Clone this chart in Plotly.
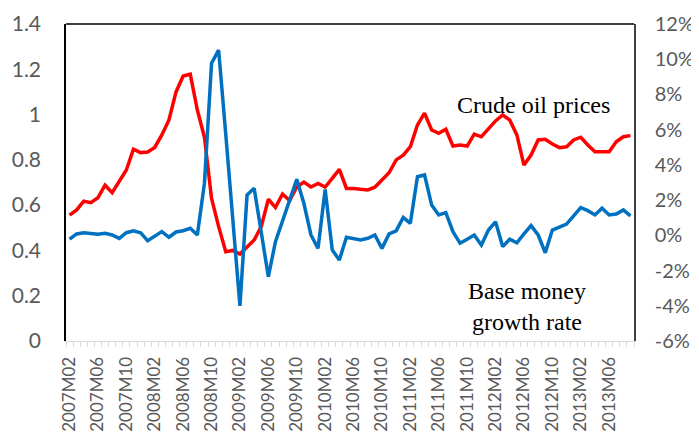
import plotly.graph_objects as go

months = [f"{y}M{m:02d}" for y in range(2007, 2014) for m in range(1, 13)]
months = months[months.index("2007M02"):months.index("2013M09") + 1]

oil_price = [
    0.556, 0.579, 0.618, 0.611, 0.633, 0.688, 0.655, 0.704, 0.755, 0.847,
    0.832, 0.835, 0.855, 0.910, 0.976, 1.100, 1.170, 1.178, 1.020, 0.900,
    0.630, 0.505, 0.394, 0.400, 0.384, 0.415, 0.446, 0.505, 0.626, 0.590,
    0.649, 0.620, 0.680, 0.702, 0.680, 0.696, 0.680, 0.718, 0.758, 0.674,
    0.674, 0.670, 0.667, 0.679, 0.711, 0.743, 0.800, 0.821, 0.858, 0.954,
    1.006, 0.932, 0.917, 0.935, 0.861, 0.866, 0.861, 0.914, 0.902, 0.935,
    0.972, 0.998, 0.976, 0.910, 0.777, 0.821, 0.888, 0.891, 0.870, 0.854,
    0.858, 0.888, 0.900, 0.866, 0.836, 0.836, 0.836, 0.880, 0.902, 0.907,
]

base_money_growth = [
    -0.22, 0.08, 0.15, 0.12, 0.06, 0.12, 0.02, -0.17, 0.15, 0.26,
    0.15, -0.30, -0.04, 0.21, -0.11, 0.19, 0.26, 0.40, 0.02, 2.96,
    9.77, 10.52, 5.75, 0.76, -4.01, 2.29, 2.67, 0.17, -2.35, -0.36,
    0.87, 2.10, 3.18, 1.82, 0.02, -0.74, 2.61, -0.83, -1.40, -0.11,
    -0.20, -0.26, -0.17, 0.02, -0.74, 0.08, 0.25, 1.02, 0.68, 3.33,
    3.43, 1.72, 1.16, 1.29, 0.21, -0.45, -0.22, 0.02, -0.55, 0.30,
    0.77, -0.64, -0.22, -0.42, 0.08, 0.55, 0.02, -0.99, 0.30, 0.49,
    0.64, 1.10, 1.57, 1.40, 1.16, 1.54, 1.16, 1.21, 1.44, 1.10,
]

left_ticks = [0, 0.2, 0.4, 0.6, 0.8, 1, 1.2, 1.4]
right_ticks = [-6, -4, -2, 0, 2, 4, 6, 8, 10, 12]
label_months = months[::4]

idx = list(range(len(months)))
label_idx = [months.index(m) for m in label_months]

fig = go.Figure()
fig.add_trace(go.Scatter(x=idx, y=oil_price, mode="lines",
                         line=dict(color="#FF0000", width=3.5),
                         name="Crude oil prices", yaxis="y"))
fig.add_trace(go.Scatter(x=idx, y=base_money_growth, mode="lines",
                         line=dict(color="#0070C0", width=3.5),
                         name="Base money growth rate", yaxis="y2"))

tickfont = dict(family="Lato", size=21, color="#595959")

# page body has an 8px margin, so the figure is sized to fit the 699x437 window
fig.update_layout(
    width=691, height=429,
    margin=dict(l=58, r=65, t=16, b=96),
    paper_bgcolor="white", plot_bgcolor="white",
    showlegend=False,
    xaxis=dict(
        range=[-0.5, len(months) - 0.5],
        tickvals=label_idx, ticktext=label_months,
        tickangle=-90, ticks="", showgrid=False, zeroline=False,
        showline=True, linecolor="#d9d9d9", linewidth=1,
        tickfont=dict(family="Lato", size=17, color="#595959"),
        ticklabelstandoff=8, automargin=False,
        minor=dict(tick0=-0.5, dtick=1, ticks="outside", ticklen=5,
                   tickcolor="#d9d9d9", showgrid=False),
    ),
    yaxis=dict(
        range=[0, 1.4], tickvals=left_ticks,
        ticktext=[f"{v:g}" for v in left_ticks],
        showgrid=False, zeroline=False, ticks="",
        showline=True, linecolor="black", linewidth=1.5,
        tickfont=tickfont, ticklabelstandoff=19, automargin=False,
    ),
    yaxis2=dict(
        range=[-6, 12], tickvals=right_ticks,
        ticktext=[f"{v}%" for v in right_ticks],
        overlaying="y", side="right",
        showgrid=False, zeroline=False, ticks="",
        showline=True, linecolor="#404040", linewidth=1.5,
        tickfont=dict(family="Lato", size=20, color="#595959"),
        ticklabelstandoff=15, automargin=False,
    ),
    shapes=[dict(type="line", xref="paper", yref="paper", x0=0, x1=1,
                 y0=1, y1=1, line=dict(color="black", width=1.5))],
    annotations=[
        dict(text="Crude oil prices", xref="paper", yref="paper",
             x=(533 - 66) / 568, y=(341 - 105) / 317, showarrow=False,
             xanchor="center", yanchor="middle",
             font=dict(family="Liberation Serif", size=24, color="black")),
        dict(text="Base money<br>growth rate", xref="paper", yref="paper",
             x=(527 - 66) / 568, y=(341 - 306) / 317, showarrow=False,
             xanchor="center", yanchor="middle",
             font=dict(family="Liberation Serif", size=24, color="black")),
    ],
)

fig.write_html("out.html")
